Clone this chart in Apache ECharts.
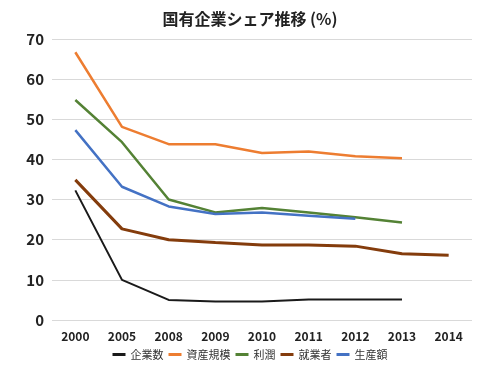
<!DOCTYPE html>
<html><head><meta charset="utf-8">
<script src="https://cdn.jsdelivr.net/npm/echarts@6/dist/echarts.min.js"></script>
<style>html,body{margin:0;padding:0;background:#fff}#c{width:500px;height:370px}</style>
</head><body><div id="c"></div>
<script>
const categories = ['2000','2005','2008','2009','2010','2011','2012','2013','2014'];
const kigyosu = [32.3, 10.0, 5.0, 4.6, 4.6, 5.1, 5.1, 5.1, null];
const shisan = [66.7, 48.1, 43.8, 43.8, 41.6, 42.0, 40.8, 40.3, null];
const rijun = [54.8, 44.3, 30.0, 26.8, 27.9, 26.8, 25.6, 24.3, null];
const shugyo = [34.9, 22.7, 20.0, 19.3, 18.7, 18.7, 18.4, 16.5, 16.1];
const seisan = [47.3, 33.2, 28.3, 26.4, 26.8, 26.0, 25.2, null, null];
const yTicks = [0, 10, 20, 30, 40, 50, 60, 70];

const font = '"Noto Sans CJK JP", "Noto Sans", sans-serif';
const chart = echarts.init(document.getElementById('c'));
function s(name, data, color, w) {
  return {name, type:'line', data, symbol:'none', smooth:false,
    lineStyle:{color, width:w}, itemStyle:{color}, connectNulls:false};
}
chart.setOption({
  animation:false,
  title:{text:'国有企業シェア推移 (%)', left:'center', top:6,
    textStyle:{fontFamily:font, fontSize:16, fontWeight:'bold', color:'#222'}},
  legend:{bottom:5, left:'center', itemWidth:13, itemHeight:3, itemGap:5,
    icon:'rect',
    textStyle:{fontFamily:font, fontSize:11, color:'#333'},
    data:['企業数','資産規模','利潤','就業者','生産額']},
  grid:{left:52, right:28, top:39, bottom:50},
  xAxis:{type:'category', data:categories, boundaryGap:true,
    axisLine:{show:false}, axisTick:{show:false},
    axisLabel:{fontFamily:font, fontSize:12, fontWeight:'bold', color:'#222', margin:10}},
  yAxis:{type:'value', min:yTicks[0], max:yTicks[yTicks.length-1], interval:10,
    axisLabel:{fontFamily:font, fontSize:15, fontWeight:'bold', color:'#222', margin:8},
    splitLine:{lineStyle:{color:'#d9d9d9', width:1}}},
  series:[
    s('企業数', kigyosu, '#1a1a1a', 2),
    s('資産規模', shisan, '#ed7d31', 2.5),
    s('利潤', rijun, '#548235', 2.5),
    s('就業者', shugyo, '#843c0c', 3),
    s('生産額', seisan, '#4472c4', 2.5)
  ]
});
</script></body></html>
